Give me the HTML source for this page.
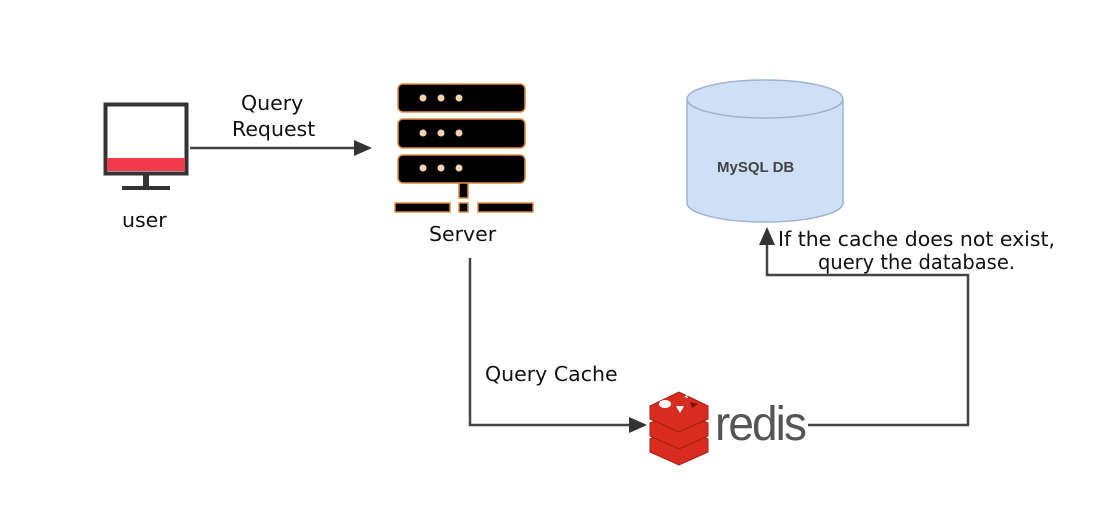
<!DOCTYPE html>
<html><head><style>body{margin:0;background:#fff}svg{display:block}
.t{font-family:"Comic Sans MS","DejaVu Sans","Liberation Sans",sans-serif;font-size:20.5px;fill:#111}</style></head>
<body>
<svg width="1106" height="520" viewBox="0 0 1106 520" xmlns="http://www.w3.org/2000/svg">
<!-- monitor -->
<rect x="105.5" y="104.5" width="81" height="69" fill="#fff" stroke="#333" stroke-width="4"/>
<rect x="107" y="158" width="78" height="13" fill="#f23a4a"/>
<rect x="143" y="174" width="6" height="13" fill="#333"/>
<rect x="122" y="186" width="48" height="4" fill="#333"/>
<text class="t" x="122" y="227">user</text>
<!-- query request -->
<line x1="190" y1="148" x2="355" y2="148" stroke="#444" stroke-width="2.5"/>
<path d="M354,140 L372,148 L354,156 z" fill="#333"/>
<text class="t" x="241" y="110">Query</text>
<text class="t" x="232" y="136">Request</text>
<!-- server -->
<g fill="#000" stroke="#e08a40" stroke-width="1.5">
<rect x="398" y="84" width="127" height="28" rx="5"/>
<rect x="398" y="119" width="127" height="29" rx="5"/>
<rect x="398" y="155" width="127" height="28" rx="5"/>
<rect x="459" y="183" width="9" height="15"/>
<rect x="395" y="203" width="55" height="9"/>
<rect x="459" y="203" width="9" height="9"/>
<rect x="478" y="203" width="55" height="9"/>
</g>
<g fill="#f4d2b0">
<circle cx="423" cy="98" r="3.5"/><circle cx="441" cy="98" r="3.5"/><circle cx="459" cy="98" r="3.5"/>
<circle cx="423" cy="133" r="3.5"/><circle cx="441" cy="133" r="3.5"/><circle cx="459" cy="133" r="3.5"/>
<circle cx="423" cy="168" r="3.5"/><circle cx="441" cy="168" r="3.5"/><circle cx="459" cy="168" r="3.5"/>
</g>
<text class="t" x="429" y="241">Server</text>
<!-- query cache -->
<polyline points="470,258 470,425 630,425" fill="none" stroke="#444" stroke-width="2.5"/>
<path d="M629,417 L647,425 L629,433 z" fill="#333"/>
<text class="t" x="485" y="381">Query Cache</text>
<!-- redis -->
<g fill="#d82c20" stroke="#a41e11" stroke-width="1">
<path d="M650,439 L679,426 L708,439 L708,452 L679,465 L650,452 z"/>
<path d="M650,423 L679,410 L708,423 L708,436 L679,449 L650,436 z"/>
<path d="M650,406 L679,392 L708,406 L708,419 L679,432 L650,419 z"/>
</g>
<ellipse cx="665" cy="404" rx="6" ry="4" fill="#fff"/>
<path d="M676,406 L684,406 L680,413 z" fill="#fff"/>
<path d="M684,397 l3,-2 l1,3 z" fill="#fff"/>
<path d="M690,402 L698,404 L692,408 z" fill="#7a1410"/>
<text x="715" y="440" style="font-family:'Liberation Sans',sans-serif;font-size:48px;fill:#555;letter-spacing:-2px" textLength="90" lengthAdjust="spacingAndGlyphs">redis</text>
<polyline points="808,425 968,425 968,275 767,275 767,244" fill="none" stroke="#444" stroke-width="2.5"/>
<path d="M759,245 L767,227 L775,245 z" fill="#333"/>
<!-- DB -->
<path d="M687,99 L687,203 A78,19 0 0 0 843,203 L843,99" fill="#cfdff6" stroke="#9fb2cf" stroke-width="1.5"/>
<ellipse cx="765" cy="99" rx="78" ry="19" fill="#cfdff6" stroke="#9fb2cf" stroke-width="1.5"/>
<text x="717" y="172" style="font-family:'Liberation Sans',sans-serif;font-size:15px;font-weight:bold;fill:#444">MySQL DB</text>
<text class="t" x="778" y="246" textLength="277" lengthAdjust="spacingAndGlyphs">If the cache does not exist,</text>
<text class="t" x="818" y="269" textLength="197" lengthAdjust="spacingAndGlyphs">query the database.</text>
</svg>
</body></html>
